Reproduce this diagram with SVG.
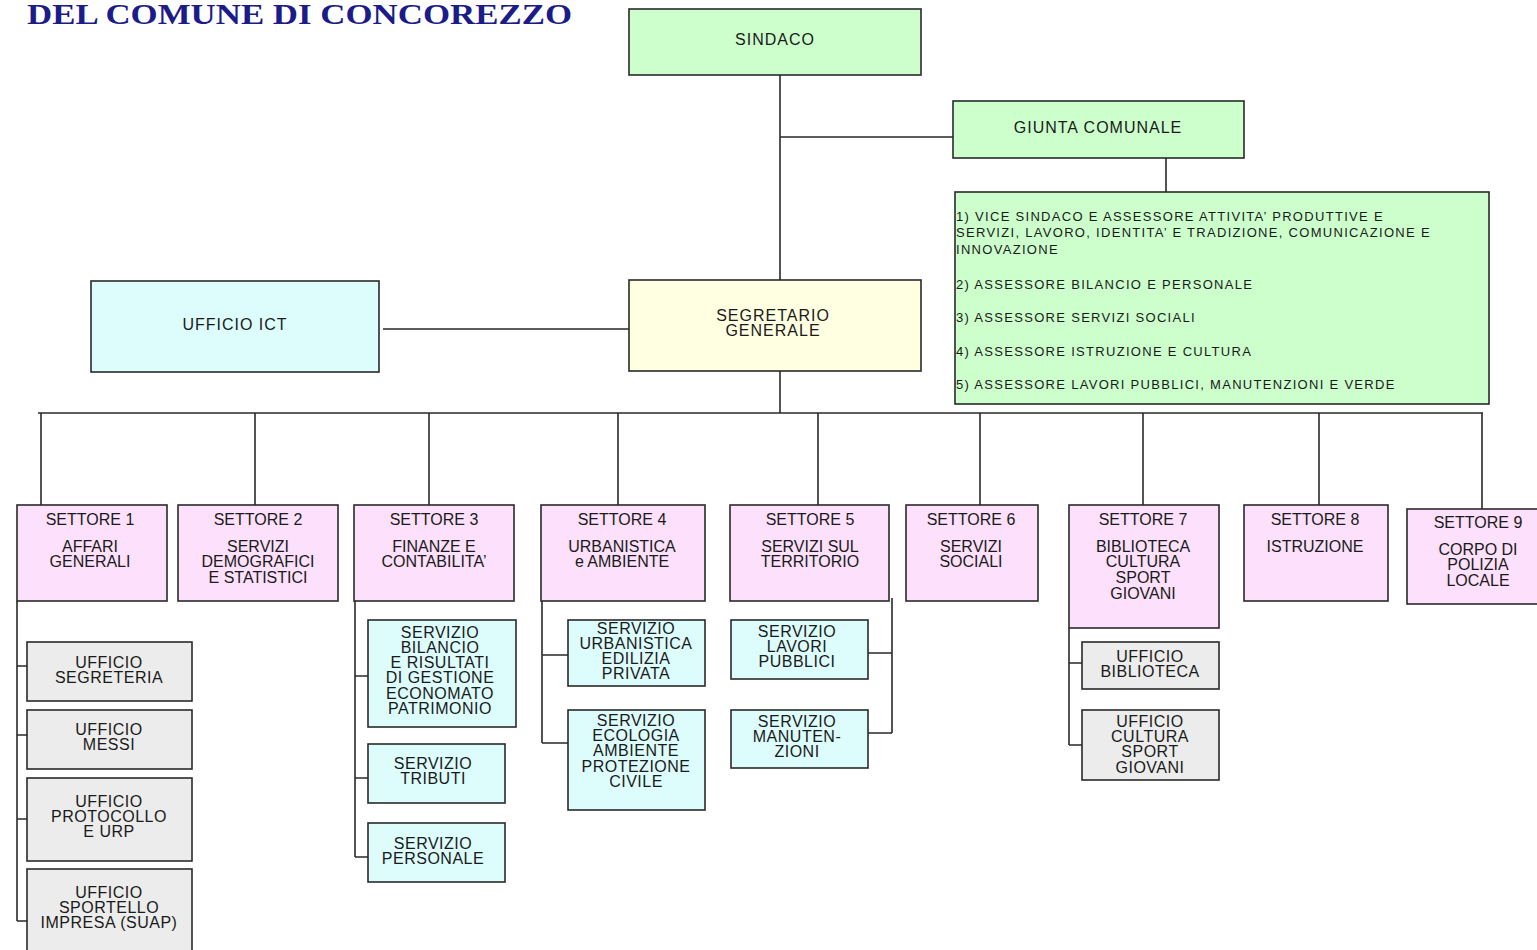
<svg xmlns="http://www.w3.org/2000/svg" width="1537" height="950" viewBox="0 0 1537 950">
<style>
.box{stroke:#2a2a2a;stroke-width:1.6}
.g{fill:#ccffcc}.p{fill:#fde0fb}.c{fill:#ddfcfc}.y{fill:#ffffe2}.gr{fill:#ececec}
text{font-family:"Liberation Sans",Arial,sans-serif;fill:#1a1a1a;text-anchor:middle}
.t16{font-size:16px;letter-spacing:1px}
.s{font-size:16px}
.sb{font-size:16px;letter-spacing:0.5px}
.as{font-size:13px;letter-spacing:1.3px;text-anchor:start}
.ln{stroke:#2a2a2a;stroke-width:1.6;fill:none}
</style>
<rect width="1537" height="950" fill="#ffffff"/>
<text x="27" y="24" textLength="545" lengthAdjust="spacingAndGlyphs" style="font-family:'Liberation Serif','Times New Roman',serif;font-weight:bold;font-size:29px;fill:#1c1c88;text-anchor:start">DEL COMUNE DI CONCOREZZO</text>

<g id="connectors">
<path class="ln" d="M780 75V280M780 137H953M1166 158V192M383 329H632M780 371V413M38 413H1483"/>
<path class="ln" d="M41 413V512M255 413V512M429 413V512M618 413V512M818 413V512M980 413V512M1143 413V512M1319 413V512M1482 413V514"/>
<path class="ln" d="M17 601V921M17 666H27M17 735H27M17 819H27M17 921H27"/>
<path class="ln" d="M355 601V857M355 676H368M355 778H368M355 857H368"/>
<path class="ln" d="M542 601V743M542 655H568M542 743H568"/>
<path class="ln" d="M892 598V733M868 653H892M868 733H892"/>
<path class="ln" d="M1069 628V745M1069 663H1082M1069 745H1082"/>
</g>

<g id="sindaco"><rect class="box g" x="629" y="9" width="292" height="66"/><text class="t16" x="775" y="45">SINDACO</text></g>
<g id="giunta"><rect class="box g" x="953" y="101" width="291" height="57"/><text class="t16" x="1098" y="133">GIUNTA COMUNALE</text></g>
<g id="assessori"><rect class="box g" x="955" y="192" width="534" height="212"/>
<text class="as" x="956" y="221">1) VICE SINDACO E ASSESSORE  ATTIVITA’ PRODUTTIVE E</text>
<text class="as" x="956" y="237">SERVIZI, LAVORO, IDENTITA’ E TRADIZIONE, COMUNICAZIONE E</text>
<text class="as" x="956" y="254">INNOVAZIONE</text>
<text class="as" x="956" y="289">2) ASSESSORE  BILANCIO E PERSONALE</text>
<text class="as" x="956" y="322">3) ASSESSORE  SERVIZI SOCIALI</text>
<text class="as" x="956" y="356">4) ASSESSORE  ISTRUZIONE E CULTURA</text>
<text class="as" x="956" y="389">5) ASSESSORE  LAVORI PUBBLICI, MANUTENZIONI E VERDE</text>
</g>
<g id="ict"><rect class="box c" x="91" y="281" width="288" height="91"/><text class="t16" x="235" y="330">UFFICIO ICT</text></g>
<g id="segretario"><rect class="box y" x="629" y="280" width="292" height="91"/><text class="t16" x="773" y="321">SEGRETARIO</text><text class="t16" x="773" y="336">GENERALE</text></g>

<g id="settore1"><rect class="box p" x="17" y="505" width="150" height="96"/><text class="s" x="90" y="525">SETTORE 1</text><text class="s" x="90" y="552">AFFARI</text><text class="s" x="90" y="567">GENERALI</text></g>
<g id="settore2"><rect class="box p" x="178" y="505" width="160" height="96"/><text class="s" x="258" y="525">SETTORE 2</text><text class="s" x="258" y="552">SERVIZI</text><text class="s" x="258" y="567">DEMOGRAFICI</text><text class="s" x="258" y="583">E STATISTICI</text></g>
<g id="settore3"><rect class="box p" x="354" y="505" width="160" height="96"/><text class="s" x="434" y="525">SETTORE 3</text><text class="s" x="434" y="552">FINANZE E</text><text class="s" x="434" y="567">CONTABILITA’</text></g>
<g id="settore4"><rect class="box p" x="541" y="505" width="164" height="96"/><text class="s" x="622" y="525">SETTORE 4</text><text class="s" x="622" y="552">URBANISTICA</text><text class="s" x="622" y="567">e AMBIENTE</text></g>
<g id="settore5"><rect class="box p" x="730" y="505" width="159" height="96"/><text class="s" x="810" y="525">SETTORE 5</text><text class="s" x="810" y="552">SERVIZI SUL</text><text class="s" x="810" y="567">TERRITORIO</text></g>
<g id="settore6"><rect class="box p" x="906" y="505" width="132" height="96"/><text class="s" x="971" y="525">SETTORE 6</text><text class="s" x="971" y="552">SERVIZI</text><text class="s" x="971" y="567">SOCIALI</text></g>
<g id="settore7"><rect class="box p" x="1069" y="505" width="150" height="123"/><text class="s" x="1143" y="525">SETTORE 7</text><text class="s" x="1143" y="552">BIBLIOTECA</text><text class="s" x="1143" y="567">CULTURA</text><text class="s" x="1143" y="583">SPORT</text><text class="s" x="1143" y="599">GIOVANI</text></g>
<g id="settore8"><rect class="box p" x="1244" y="505" width="144" height="96"/><text class="s" x="1315" y="525">SETTORE 8</text><text class="s" x="1315" y="552">ISTRUZIONE</text></g>
<g id="settore9"><rect class="box p" x="1407" y="509" width="135" height="95"/><text class="s" x="1478" y="528">SETTORE 9</text><text class="s" x="1478" y="555">CORPO DI</text><text class="s" x="1478" y="570">POLIZIA</text><text class="s" x="1478" y="586">LOCALE</text></g>

<g id="uff-segreteria"><rect class="box gr" x="27" y="642" width="165" height="59"/><text class="sb" x="109" y="668">UFFICIO</text><text class="sb" x="109" y="683">SEGRETERIA</text></g>
<g id="uff-messi"><rect class="box gr" x="27" y="710" width="165" height="59"/><text class="sb" x="109" y="735">UFFICIO</text><text class="sb" x="109" y="750">MESSI</text></g>
<g id="uff-protocollo"><rect class="box gr" x="27" y="778" width="165" height="83"/><text class="sb" x="109" y="807">UFFICIO</text><text class="sb" x="109" y="822">PROTOCOLLO</text><text class="sb" x="109" y="837">E URP</text></g>
<g id="uff-suap"><rect class="box gr" x="27" y="869" width="165" height="90"/><text class="sb" x="109" y="898">UFFICIO</text><text class="sb" x="109" y="913">SPORTELLO</text><text class="sb" x="109" y="928">IMPRESA (SUAP)</text></g>

<g id="serv-bilancio"><rect class="box c" x="368" y="620" width="148" height="107"/><text class="sb" x="440" y="638">SERVIZIO</text><text class="sb" x="440" y="653">BILANCIO</text><text class="sb" x="440" y="668">E RISULTATI</text><text class="sb" x="440" y="683">DI GESTIONE</text><text class="sb" x="440" y="699">ECONOMATO</text><text class="sb" x="440" y="714">PATRIMONIO</text></g>
<g id="serv-tributi"><rect class="box c" x="368" y="744" width="137" height="59"/><text class="sb" x="433" y="769">SERVIZIO</text><text class="sb" x="433" y="784">TRIBUTI</text></g>
<g id="serv-personale"><rect class="box c" x="368" y="823" width="137" height="59"/><text class="sb" x="433" y="849">SERVIZIO</text><text class="sb" x="433" y="864">PERSONALE</text></g>

<g id="serv-urbanistica"><rect class="box c" x="568" y="620" width="137" height="66"/><text class="sb" x="636" y="634">SERVIZIO</text><text class="sb" x="636" y="649">URBANISTICA</text><text class="sb" x="636" y="664">EDILIZIA</text><text class="sb" x="636" y="679">PRIVATA</text></g>
<g id="serv-ecologia"><rect class="box c" x="568" y="710" width="137" height="100"/><text class="sb" x="636" y="726">SERVIZIO</text><text class="sb" x="636" y="741">ECOLOGIA</text><text class="sb" x="636" y="756">AMBIENTE</text><text class="sb" x="636" y="772">PROTEZIONE</text><text class="sb" x="636" y="787">CIVILE</text></g>

<g id="serv-lavori"><rect class="box c" x="731" y="620" width="137" height="59"/><text class="sb" x="797" y="637">SERVIZIO</text><text class="sb" x="797" y="652">LAVORI</text><text class="sb" x="797" y="667">PUBBLICI</text></g>
<g id="serv-manutenzioni"><rect class="box c" x="731" y="710" width="137" height="58"/><text class="sb" x="797" y="727">SERVIZIO</text><text class="sb" x="797" y="742">MANUTEN-</text><text class="sb" x="797" y="757">ZIONI</text></g>

<g id="uff-biblioteca"><rect class="box gr" x="1082" y="642" width="137" height="47"/><text class="sb" x="1150" y="662">UFFICIO</text><text class="sb" x="1150" y="677">BIBLIOTECA</text></g>
<g id="uff-cultura"><rect class="box gr" x="1082" y="710" width="137" height="70"/><text class="sb" x="1150" y="727">UFFICIO</text><text class="sb" x="1150" y="742">CULTURA</text><text class="sb" x="1150" y="757">SPORT</text><text class="sb" x="1150" y="773">GIOVANI</text></g>
</svg>
